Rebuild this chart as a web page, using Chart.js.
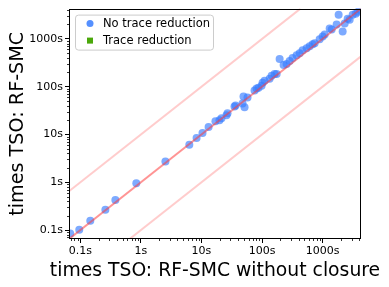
<!DOCTYPE html>
<html><head><meta charset="utf-8">
<script src="https://cdn.jsdelivr.net/npm/chart.js@4/dist/chart.umd.min.js"></script>
<style>html,body{margin:0;padding:0;background:#fff;} canvas{display:block;}</style>
</head><body>
<canvas id="c" width="389" height="287"></canvas>
<script>
// ---- data ----
const xNoReduction = [0.068,0.096,0.146,0.259,0.379,0.84,2.54,6.3,8.3,10.4,13.1,17.0,19.8,21.4,25.9,26.9,35.1,36.5,47.6,49.4,51.4,57.5,75.2,81.1,87.5,98.2,102,110,133,144,161,174,195,227,254,285,319,372,417,467,544,610,684,738,892,1000,1080,1306,1409,1703,1837,2141,2312,2590,2793,3133,3510,3790,4090];
const yNoReduction = [0.085,0.102,0.157,0.265,0.426,0.95,2.71,6.08,8.47,10.7,14.3,19.0,19.9,21.9,25.2,27.7,38.7,40.6,44.6,62.2,36.9,59.3,82.8,91.1,95.3,105,121,133,146,169,185,185,378,284,298,343,396,457,502,579,637,700,770,808,977,1127,1239,1645,1570,1991,3200,1429,2090,2649,2524,3200,3357,3690,4055];
const xTraceReduction = [];
const yTraceReduction = [];
const axisMin = 0.065, axisMax = 4300;
const diagX = [0.065, 4300], diagY = [0.065, 4300];
const upperX = [0.065, 430], upperY = [0.65, 4300];
const lowerX = [0.65, 4300], lowerY = [0.065, 430];
const decadeTicks = [0.1, 1, 10, 100, 1000];
const decadeLabels = ['0.1s', '1s', '10s', '100s', '1000s'];
const seriesLabels = ['No trace reduction', 'Trace reduction'];
const xTitle = 'times TSO: RF-SMC without closure';
const yTitle = 'times TSO: RF-SMC';

const pts = (xs, ys) => xs.map((x, i) => ({x: x, y: ys[i]}));
const BLUE = 'rgba(55,125,255,0.65)';
const GREEN = '#4aa80a';
const TITLE_FONT = '18.8px "DejaVu Sans"';

const frameAndTicks = {
  id: 'frameAndTicks',
  afterDraw(chart) {
    const ctx = chart.ctx, a = chart.chartArea;
    const xs = chart.scales.x, ys = chart.scales.y;
    ctx.save();
    ctx.strokeStyle = '#000'; ctx.lineWidth = 1;
    ctx.strokeRect(Math.round(a.left) + 0.5, Math.round(a.top) + 0.5, Math.round(a.right - a.left) - 1, Math.round(a.bottom - a.top) - 1);
    ctx.lineWidth = 0.8;
    ctx.beginPath();
    for (let d = 0.01; d <= 1000; d *= 10) {
      for (let k = 2; k <= 9; k++) {
        const v = d * k;
        if (v < axisMin || v > axisMax) continue;
        const px = Math.round(xs.getPixelForValue(v)) + 0.5;
        ctx.moveTo(px, a.bottom); ctx.lineTo(px, a.bottom + 2);
        const py = Math.round(ys.getPixelForValue(v)) + 0.5;
        ctx.moveTo(a.left, py); ctx.lineTo(a.left - 2, py);
      }
    }
    ctx.stroke();
    // x-axis title (drawn unclipped, wider than the plot)
    ctx.font = TITLE_FONT;
    ctx.fillStyle = '#000';
    ctx.textAlign = 'center';
    ctx.textBaseline = 'alphabetic';
    ctx.fillText(xTitle, (a.left + a.right) / 2, chart.height - 11);
    ctx.restore();
  }
};

const insideLegend = {
  id: 'insideLegend',
  afterDatasetsDraw(chart) {
    const ctx = chart.ctx, a = chart.chartArea;
    const bx = a.left + 6, by = a.top + 6, bw = 138, bh = 35;
    ctx.save();
    ctx.fillStyle = 'rgba(255,255,255,0.9)';
    ctx.strokeStyle = '#cccccc'; ctx.lineWidth = 1;
    ctx.beginPath();
    ctx.roundRect(bx + 0.5, by + 0.5, bw, bh, 3);
    ctx.fill(); ctx.stroke();
    ctx.font = '11.5px "DejaVu Sans"';
    ctx.textBaseline = 'middle';
    const rowY = [by + 9, by + 26];
    ctx.fillStyle = 'rgba(55,125,255,0.85)';
    ctx.beginPath(); ctx.arc(bx + 15, rowY[0], 3.5, 0, Math.PI * 2); ctx.fill();
    ctx.fillStyle = GREEN;
    ctx.fillRect(bx + 12, rowY[1] - 3, 6, 6);
    ctx.fillStyle = '#000';
    ctx.fillText(seriesLabels[0], bx + 28, rowY[0]);
    ctx.fillText(seriesLabels[1], bx + 28, rowY[1]);
    ctx.restore();
  }
};

const tickFont = {family: '"DejaVu Sans"', size: 11};
const titleFont = {family: '"DejaVu Sans"', size: 19.2};

function axisCfg(title, isX) {
  return {
    type: 'logarithmic',
    min: axisMin, max: axisMax,
    afterBuildTicks: s => { s.ticks = decadeTicks.map(v => ({value: v})); },
    afterFit: s => { if (isX) s.height = 48; else s.width = 69; },
    ticks: {
      autoSkip: false, maxRotation: 0, padding: 2, color: '#000', font: tickFont,
      callback: v => { const i = decadeTicks.indexOf(v); return i >= 0 ? decadeLabels[i] : ''; }
    },
    grid: { drawOnChartArea: false, tickLength: 4, tickColor: '#000', tickWidth: 1 },
    border: { display: false },
    title: { display: !isX, text: title, color: '#000', font: titleFont,
             padding: {top: 6, bottom: 0} }
  };
}

new Chart(document.getElementById('c'), {
  type: 'scatter',
  data: {
    datasets: [
      { label: 'y=x', data: pts(diagX, diagY), showLine: true, pointRadius: 0, borderColor: 'rgba(255,60,60,0.55)', borderWidth: 2, order: 0 },
      { label: 'y=10x', data: pts(upperX, upperY), showLine: true, pointRadius: 0, borderColor: 'rgba(255,0,0,0.2)', borderWidth: 2, order: 3 },
      { label: 'y=x/10', data: pts(lowerX, lowerY), showLine: true, pointRadius: 0, borderColor: 'rgba(255,0,0,0.2)', borderWidth: 2, order: 3 },
      { label: seriesLabels[0], data: pts(xNoReduction, yNoReduction), pointRadius: 4, pointBackgroundColor: BLUE, pointBorderWidth: 0, order: 1 },
      { label: seriesLabels[1], data: pts(xTraceReduction, yTraceReduction), pointStyle: 'rect', pointRadius: 4, pointBackgroundColor: GREEN, pointBorderWidth: 0, order: 2 }
    ]
  },
  options: {
    responsive: false, animation: false, devicePixelRatio: 1,
    layout: { padding: {left: 0, top: 7, right: 28, bottom: 0} },
    plugins: { legend: {display: false}, tooltip: {enabled: false} },
    clip: 0,
    scales: { x: axisCfg(xTitle, true), y: axisCfg(yTitle, false) }
  },
  plugins: [insideLegend, frameAndTicks]
});
</script>
</body></html>
